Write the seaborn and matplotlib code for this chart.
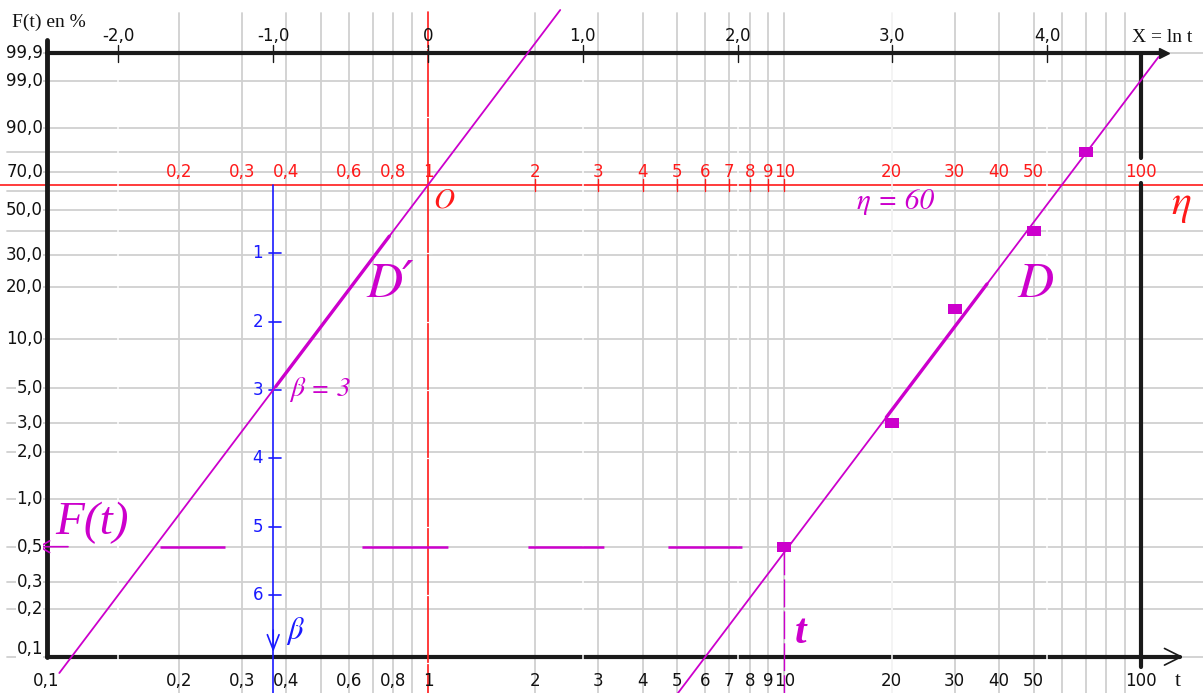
import numpy as np
import matplotlib
matplotlib.use("Agg")
import matplotlib.pyplot as plt
import seaborn as sns

t_obs = [10, 20, 30, 50, 70]
F_obs = [0.5, 3.0, 15.0, 40.0, 80.0]   # F(t) en %
beta = 3
eta = 60

# graduations du papier
F_grid = [0.1, 0.2, 0.3, 0.5, 1, 2, 3, 5, 10, 20, 30, 40, 50, 60, 70, 80, 90, 99, 99.9]
F_ticks = [0.1, 0.2, 0.3, 0.5, 1, 2, 3, 5, 10, 20, 30, 50, 70, 90, 99, 99.9]
F_ticklabels = ["0,1", "0,2", "0,3", "0,5", "1,0", "2,0", "3,0", "5,0", "10,0",
                "20,0", "30,0", "50,0", "70,0", "90,0", "99,0", "99,9"]
t_grid = [0.2, 0.3, 0.4, 0.5, 0.6, 0.7, 0.8, 0.9, 2, 3, 4, 5, 6, 7, 8, 9, 10,
          20, 30, 40, 50, 60, 70, 80, 90]
t_ticks = [0.2, 0.3, 0.4, 0.6, 0.8, 1, 2, 3, 4, 5, 6, 7, 8, 9, 10,
           20, 30, 40, 50, 100]
t_ticklabels = ["0,2", "0,3", "0,4", "0,6", "0,8", "1", "2", "3", "4", "5", "6",
                "7", "8", "9", "10", "20", "30", "40", "50", "100"]
t_red_marks = [2, 3, 4, 5, 6, 7, 8, 9, 10]
X_ticks = [-2, -1, 0, 1, 2, 3, 4]
X_ticklabels = ["-2,0", "-1,0", "0", "1,0", "2,0", "3,0", "4,0"]
beta_ticks = [1, 2, 3, 4, 5, 6]

MAG = "#cc00cc"
RED = "#ff1a1a"
BLUE = "#1a1aff"
GRID = "#d0d0d0"


def X(t):
    return np.log(np.asarray(t, dtype=float))


def Y(F):
    F = np.asarray(F, dtype=float) / 100
    return np.log(-np.log(1 - F))


# mise en page : pixels -> coordonnees du papier
SX, X0 = 154.8, 428
SY, Y0 = 68.3, 185


def px(p):
    return (p - X0) / SX


def py(p):
    return (Y0 - p) / SY


sns.set_theme(style="white")
plt.rcParams["font.family"] = ["DejaVu Sans"]
plt.rcParams["mathtext.fontset"] = "stix"
plt.rcParams["lines.scale_dashes"] = False
SERIF = ["Liberation Serif", "DejaVu Serif"]
STIX = ["STIXGeneral", "DejaVu Serif"]

fig = plt.figure(figsize=(12.03, 6.93), dpi=100)
ax = fig.add_axes([0, 0, 1, 1])
ax.set_xlim(px(0), px(1203))
ax.set_ylim(py(693), py(0))
ax.axis("off")

# grille grise
for f in F_grid:
    ax.plot([px(7), px(1203)], [Y(f), Y(f)], color=GRID, lw=1.3, zorder=1)
for t in t_grid:
    ax.plot([X(t), X(t)], [py(13), py(693)], color=GRID, lw=1.3, zorder=1)

# axe du bas (t)
yb = Y(0.1)
ax.plot([px(47), px(1180)], [yb, yb], color="k", lw=3, zorder=2)
ax.annotate("", xy=(px(1183), yb), xytext=(px(1160), yb),
            arrowprops=dict(arrowstyle="->,head_length=1.0,head_width=0.5",
                            color="k", lw=1.2, shrinkA=0, shrinkB=0), zorder=2)

# axes rouges (eta, origine O)
ax.plot([0, 0], [py(12), py(693)], color=RED, lw=1.2, zorder=3)
ax.plot([px(0), px(1203)], [0, 0], color=RED, lw=1.2, zorder=3)
for t in t_red_marks:
    ax.plot([X(t), X(t)], [py(179), py(191)], color=RED, lw=1, zorder=3)

# petites coupures blanches aux valeurs entieres de X et Y
for x in X_ticks:
    if x not in (0, -1):
        ax.plot([x, x], [py(0), py(693)], color="white", lw=1.1, zorder=3.5)
for y in range(-7, 3):
    if y != 0:
        ax.plot([px(424), px(432)], [y, y], color="white", lw=0.9, zorder=3.5)

# axe du haut (X = ln t)
yt = Y(99.9)
ax.plot([px(47), px(1164)], [yt, yt], color="k", lw=3, zorder=4)
ax.plot([px(1164)], [yt], marker=">", ms=7, color="k", zorder=4)
for x in X_ticks:
    ax.plot([x, x], [py(45), py(62)], color="k", lw=1, zorder=4)

# axe de gauche F(t) et verticale t = 100
ax.plot([px(47), px(47)], [py(40), yb], color="k", lw=3.5,
        solid_capstyle="round", zorder=4)
ax.plot([X(100), X(100)], [py(55), py(158)], color="k", lw=3, zorder=4)
ax.plot([X(100), X(100)], [py(183), py(667)], color="k", lw=3, zorder=4)

# echelle de beta (bleue) en X = -1
ax.plot([-1, -1], [0, py(693)], color=BLUE, lw=1.2, zorder=4)
ax.annotate("", xy=(-1, py(652)), xytext=(-1, py(630)),
            arrowprops=dict(arrowstyle="->,head_length=0.9,head_width=0.35",
                            color=BLUE, lw=1.2, shrinkA=0, shrinkB=0), zorder=4)
for b in beta_ticks:
    ax.plot([px(269), px(281)], [-b, -b], color=BLUE, lw=1.2, zorder=4)
    ax.text(px(263), -b, str(b), color=BLUE, fontsize=12, ha="right",
            va="center", zorder=6)

# droites D' (par O) et D (par eta), pente beta
yd1 = np.array([py(673), py(10)])
sns.lineplot(x=yd1 / beta, y=yd1, color=MAG, lw=1.3, sort=False,
             estimator=None, ax=ax, zorder=5)
yd1b = np.array([-2.95, -0.75])
sns.lineplot(x=yd1b / beta, y=yd1b, color=MAG, lw=2.4, sort=False,
             estimator=None, ax=ax, zorder=5)
yd = np.array([py(693), py(57)])
sns.lineplot(x=X(eta) + yd / beta, y=yd, color=MAG, lw=1.3, sort=False,
             estimator=None, ax=ax, zorder=5)
ydb = np.array([-3.4, -1.45])
sns.lineplot(x=X(eta) + ydb / beta, y=ydb, color=MAG, lw=2.4, sort=False,
             estimator=None, ax=ax, zorder=5)

# points observes
rect = [(-4, -3), (4, -3), (4, 3), (-4, 3)]
sns.scatterplot(x=X(t_obs), y=Y(F_obs), marker=rect, s=95, color=MAG,
                linewidth=0, ax=ax, zorder=6)

# lecture de F(t) pour t = 10
y05 = Y(0.5)
ax.plot([px(160), X(10)], [y05, y05], color=MAG, lw=1.8, zorder=5,
        dashes=[46.8, 98.6, 61.9, 57.6, 54.7, 46.1, 53.3, 150])
ax.plot([X(10), X(10)], [y05, py(693)], color=MAG, lw=1, zorder=5,
        dashes=[20, 3])
ax.annotate("", xy=(px(38), y05), xytext=(px(68), y05),
            arrowprops=dict(arrowstyle="->,head_length=0.6,head_width=0.35",
                            color=MAG, lw=1.2, shrinkA=0, shrinkB=0), zorder=6)

# graduations en F(t)
box = dict(fc="white", ec="none", pad=0.3)
for f, lab in zip(F_ticks, F_ticklabels):
    yy = py(649) if f == 0.1 else Y(f)
    ax.text(px(43), yy, lab, fontsize=12, ha="right", va="center",
            color="#111111", bbox=box, zorder=7)

# graduations du haut (X)
for x, lab in zip(X_ticks, X_ticklabels):
    ax.text(x, py(36), lab, fontsize=12, ha="center", va="center",
            color="#111111", zorder=7)

# graduations en t : echelle rouge et axe du bas
for t, lab in zip(t_ticks, t_ticklabels):
    ax.text(X(t), py(172), lab, fontsize=12, ha="center", va="center",
            color=RED, zorder=7)
    ax.text(X(t), py(681), lab, fontsize=12, ha="center", va="center",
            color="#111111", zorder=7)
ax.text(px(46), py(681), "0,1", fontsize=12, ha="center", va="center",
        color="#111111", zorder=7)

# titres des axes
ax.text(px(12), py(22), "F(t) en %", family=SERIF, fontsize=14,
        ha="left", va="center", color="#111111")
ax.text(px(1162), py(38), "X = ln t", family=SERIF, fontsize=14,
        ha="center", va="center", color="#111111")
ax.text(px(1178), py(682), "t", family=SERIF, fontsize=15,
        ha="center", va="center", color="#111111")

# annotations
ax.text(px(92), py(523), "F(t)", family=SERIF, style="italic", fontsize=34,
        ha="center", va="center", color=MAG, zorder=7)
ax.text(px(390), py(285), "D\u2032", family=STIX, style="italic",
        fontsize=36, ha="center", va="center", color=MAG, zorder=7)
ax.text(px(1035), py(285), "D", family=STIX, style="italic", fontsize=36,
        ha="center", va="center", color=MAG, zorder=7)
ax.text(px(290), py(390), "\u03b2 = 3", family=STIX, style="italic",
        fontsize=20, ha="left", va="center", color=MAG, zorder=7)
ax.text(px(857), py(202), "\u03b7 = 60", family=STIX, style="italic",
        fontsize=21, ha="left", va="center", color=MAG, zorder=7)
ax.text(px(1181), py(204), "\u03b7", family=STIX, style="italic",
        fontsize=30, ha="center", va="center", color=RED, zorder=7)
ax.text(px(444), py(200), "O", family=STIX, style="italic", fontsize=21,
        ha="center", va="center", color=RED, zorder=7)
ax.text(px(801), py(633), "t", family=SERIF, style="italic",
        weight="bold", fontsize=30, ha="center", va="center", color=MAG,
        zorder=7)
ax.text(px(295), py(631), "\u03b2", family=STIX, style="italic",
        fontsize=22, ha="center", va="center", color=BLUE, zorder=7)

fig.savefig("out.png", dpi=100)
